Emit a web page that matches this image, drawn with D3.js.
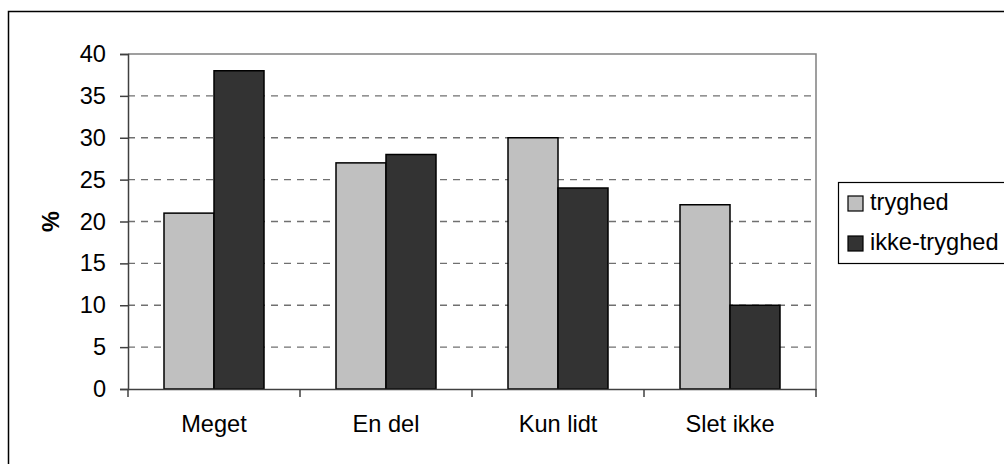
<!DOCTYPE html>
<html>
<head>
<meta charset="utf-8">
<script src="https://cdn.jsdelivr.net/npm/d3@7"></script>
<style>
  body { margin: 0; background: #fff; }
  svg { display: block; font-family: "Liberation Sans", Arial, sans-serif; }
</style>
</head>
<body>
<div id="chart"></div>
<script>
// data
const categories = ["Meget", "En del", "Kun lidt", "Slet ikke"];
const seriesNames = ["tryghed", "ikke-tryghed"];
const tryghed = [21, 27, 30, 22];
const ikkeTryghed = [38, 28, 24, 10];
const yTicks = [0, 5, 10, 15, 20, 25, 30, 35, 40];
const colors = ["#c0c0c0", "#333333"];

const W = 1004, H = 464;
const plot = { left: 128, right: 816, top: 54, bottom: 389 };
const fs = 23.6;

const svg = d3.select("#chart").append("svg")
  .attr("width", W).attr("height", H);

// outer frame (cut off at right/bottom)
svg.append("rect")
  .attr("x", 8.5).attr("y", 11.5)
  .attr("width", 1200).attr("height", 600)
  .attr("fill", "none").attr("stroke", "#000").attr("stroke-width", 1.5);

const x0 = d3.scaleBand().domain(categories).range([plot.left, plot.right]).paddingInner(0).paddingOuter(0);
const x1 = d3.scaleBand().domain(seriesNames).range([36, x0.bandwidth() - 36]);
const y = d3.scaleLinear().domain([0, 40]).range([plot.bottom, plot.top]);

// grid lines
svg.append("g").selectAll("line")
  .data(yTicks.filter(d => d > 0 && d < 40))
  .join("line")
  .attr("x1", plot.left).attr("x2", plot.right)
  .attr("y1", d => y(d)).attr("y2", d => y(d))
  .attr("stroke", "#707070").attr("stroke-width", 1.3)
  .attr("stroke-dasharray", "7,6");

// plot area border top/right
svg.append("path")
  .attr("d", `M${plot.left},${y(40)}H${plot.right}V${plot.bottom}`)
  .attr("fill", "none").attr("stroke", "#808080").attr("stroke-width", 1.5);

// bars
const rows = categories.map((c, i) => ({ cat: c, vals: [tryghed[i], ikkeTryghed[i]] }));
const groups = svg.append("g").selectAll("g")
  .data(rows).join("g")
  .attr("transform", d => `translate(${x0(d.cat)},0)`);
groups.selectAll("rect")
  .data(d => d.vals.map((v, j) => ({ name: seriesNames[j], v, j })))
  .join("rect")
  .attr("x", d => x1(d.name))
  .attr("y", d => y(d.v))
  .attr("width", x1.bandwidth())
  .attr("height", d => y(0) - y(d.v))
  .attr("fill", d => colors[d.j])
  .attr("stroke", "#000").attr("stroke-width", 1.5);

// y axis
const yAxis = svg.append("g")
  .attr("transform", `translate(${plot.left},0)`)
  .call(d3.axisLeft(y).tickValues(yTicks).tickSize(8).tickPadding(14));
yAxis.select(".domain").attr("stroke", "#404040").attr("stroke-width", 1.5);
yAxis.selectAll(".tick line").attr("stroke", "#404040").attr("stroke-width", 1.5);
yAxis.selectAll("text").attr("font-size", fs).attr("fill", "#000")
  .attr("font-family", "Liberation Sans, Arial, sans-serif");

// x axis
const xAxis = svg.append("g")
  .attr("transform", `translate(0,${plot.bottom})`)
  .call(d3.axisBottom(x0).tickSize(0).tickPadding(26));
xAxis.select(".domain").attr("stroke", "#404040").attr("stroke-width", 1.5);
xAxis.selectAll("text").attr("font-size", fs).attr("fill", "#000")
  .attr("font-family", "Liberation Sans, Arial, sans-serif");
// category separator ticks
svg.append("g").selectAll("line")
  .data(categories.concat(["end"]))
  .join("line")
  .attr("x1", (d, i) => i < categories.length ? x0(d) : plot.right)
  .attr("x2", (d, i) => i < categories.length ? x0(d) : plot.right)
  .attr("y1", plot.bottom).attr("y2", plot.bottom + 8)
  .attr("stroke", "#404040").attr("stroke-width", 1.5);

// y label
svg.append("text")
  .attr("transform", `translate(59,${(plot.top + plot.bottom) / 2}) rotate(-90)`)
  .attr("text-anchor", "middle")
  .attr("font-size", fs).attr("font-weight", "bold")
  .text("%");

// legend
const lg = svg.append("g").attr("transform", "translate(838,182)");
lg.append("rect")
  .attr("x", 0.5).attr("y", 0.5).attr("width", 300).attr("height", 81)
  .attr("fill", "#fff").attr("stroke", "#000").attr("stroke-width", 1.2);
seriesNames.forEach((n, i) => {
  lg.append("rect")
    .attr("x", 10).attr("y", 14 + i * 40).attr("width", 15).attr("height", 15)
    .attr("fill", colors[i]).attr("stroke", "#000").attr("stroke-width", 1.2);
  lg.append("text")
    .attr("x", 32).attr("y", 28 + i * 40)
    .attr("font-size", fs)
    .text(n);
});
</script>
</body>
</html>
